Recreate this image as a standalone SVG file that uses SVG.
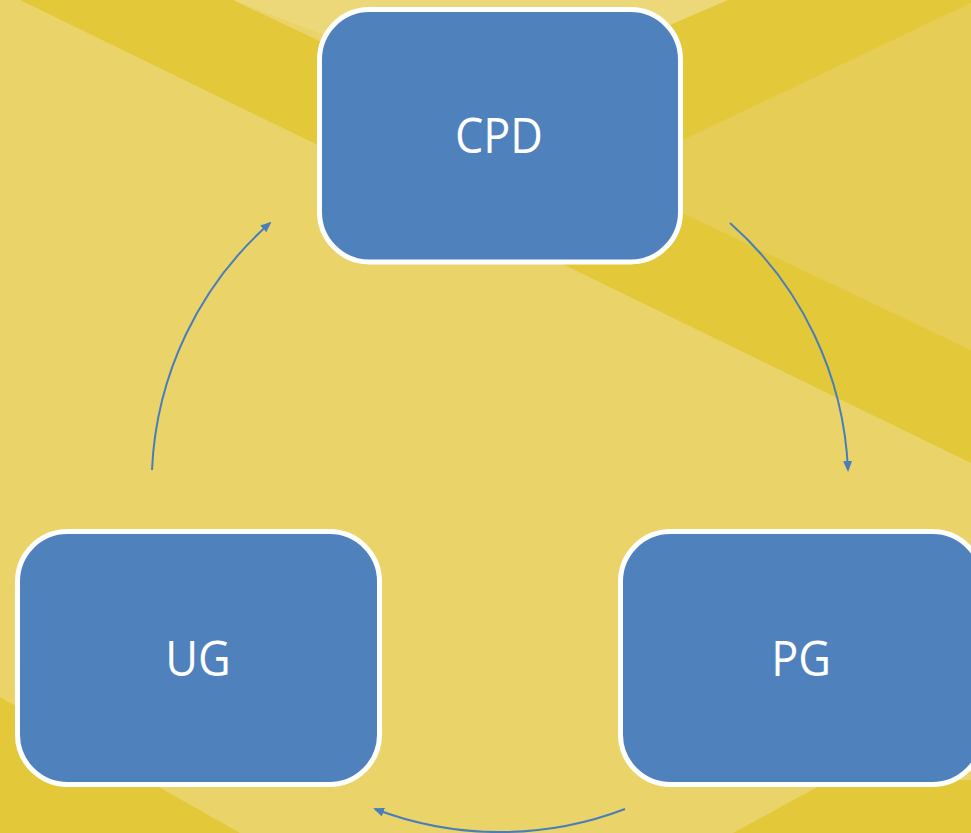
<svg xmlns="http://www.w3.org/2000/svg" width="971" height="833" viewBox="0 0 971 833">
  <style>
    .box { fill: #4F81BD; stroke: #FFFFFF; stroke-width: 5; }
    .label { fill: #FFFFFF; font-family: "Open Sans", "Noto Sans", "DejaVu Sans", sans-serif; font-size: 50px; text-anchor: middle; }
    .conn { fill: none; stroke: #4A7EBB; stroke-width: 2; marker-end: url(#arrow); }
  </style>
  <defs>
    <marker id="arrow" markerUnits="userSpaceOnUse" markerWidth="11" markerHeight="9" refX="9" refY="4.5" orient="auto">
      <path d="M0,0 L11,4.5 L0,9 z" fill="#4A7EBB"/>
    </marker>
  </defs>

  <g id="background">
    <rect x="0" y="0" width="971" height="833" fill="#EAD46A"/>
    <polygon points="233,0 745,0 520,110" fill="#ECD879"/>
    <polygon points="683,140 971,3 971,350 670,213" fill="#E6CD55"/>
    <polygon points="20,0 233,0 971,350 971,463" fill="#E3C83A"/>
    <polygon points="670,25 728,0 971,0 971,3 683,140 500,227 500,115" fill="#E3C83A"/>
    <polygon points="0,697 240,833 0,833" fill="#E3C83A"/>
    <polygon points="733,833 830,780 971,780 971,833" fill="#E3C83A"/>
  </g>

  <g id="connectors">
    <path class="conn" d="M730,223 A350,350 0 0 1 848,470"/>
    <path class="conn" d="M625,809 A350,350 0 0 1 375,809"/>
    <path class="conn" d="M152,470 A350,350 0 0 1 270,223"/>
  </g>

  <g id="node-cpd">
    <rect class="box" x="319.5" y="9.5" width="361" height="252.5" rx="50" ry="50"/>
    <text class="label" transform="translate(499,153) scale(0.9,1)">CPD</text>
  </g>
  <g id="node-pg">
    <rect class="box" x="620.5" y="531.5" width="362" height="253" rx="50" ry="50"/>
    <text class="label" transform="translate(801,676) scale(0.9,1)">PG</text>
  </g>
  <g id="node-ug">
    <rect class="box" x="17.5" y="531.5" width="362" height="253" rx="50" ry="50"/>
    <text class="label" transform="translate(198,676) scale(0.9,1)">UG</text>
  </g>
</svg>
